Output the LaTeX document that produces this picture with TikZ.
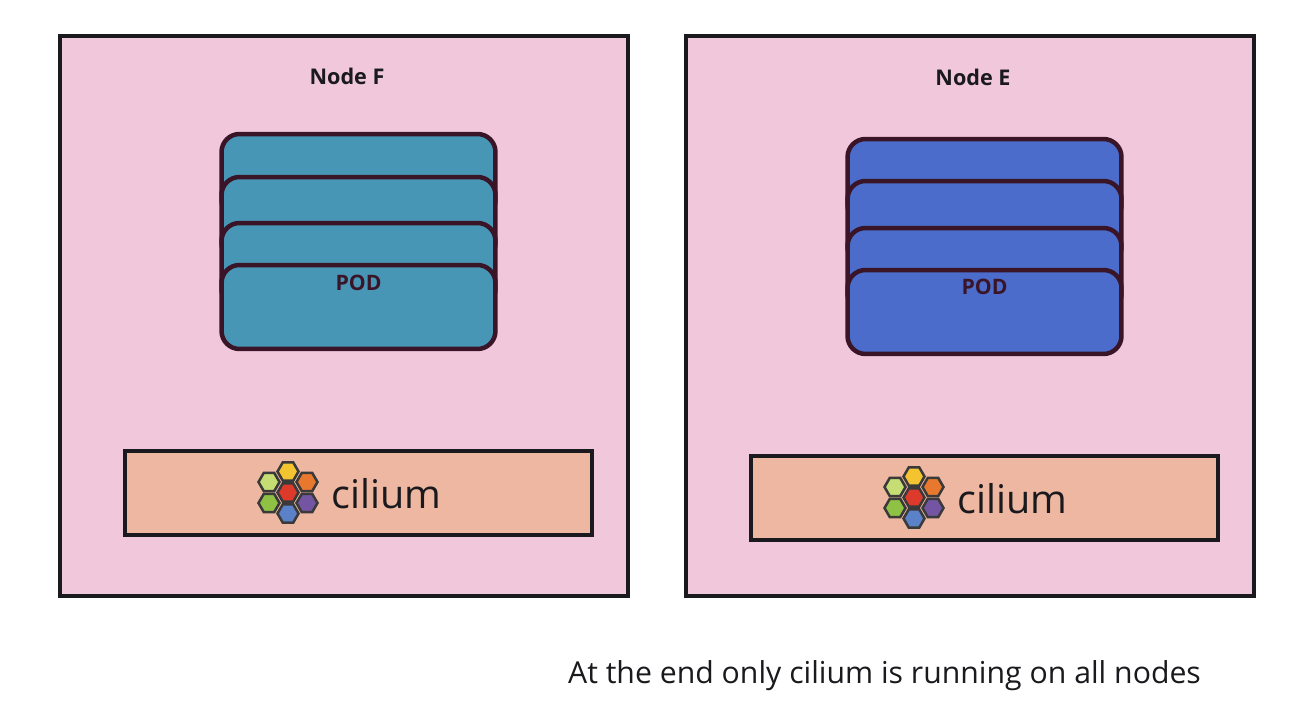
\documentclass[tikz,border=0pt]{standalone}
\usepackage{fontspec}
\setmainfont{Open Sans}
\usetikzlibrary{shapes.geometric}

\definecolor{nodepink}{HTML}{F1C7DC}
\definecolor{podteal}{HTML}{4896B6}
\definecolor{podblue}{HTML}{4B6CCB}
\definecolor{cilbox}{HTML}{EEB7A1}
\definecolor{inkdark}{HTML}{1A1A1E}
\definecolor{inkpod}{HTML}{3A1528}
\definecolor{hexline}{HTML}{3A3A3A}

\begin{document}
\begin{tikzpicture}[
    x=0.02cm, y=-0.02cm,
    worker/.style={rectangle, draw=inkdark, fill=nodepink, line width=0.08cm, minimum width=11.38cm, minimum height=11.22cm, inner sep=0pt, outer sep=0pt},
    pod/.style={rectangle, rounded corners=0.36cm, draw=inkpod, line width=0.09cm, minimum width=5.48cm, minimum height=1.68cm, inner sep=0pt, outer sep=0pt},
    agent/.style={rectangle, draw=inkdark, fill=cilbox, line width=0.08cm, minimum width=9.34cm, minimum height=1.68cm, inner sep=0pt, outer sep=0pt},
    nodetitle/.style={font=\bfseries\fontsize{12.3pt}{14pt}\selectfont, text=inkdark},
    podtitle/.style={font=\bfseries\fontsize{12.1pt}{14pt}\selectfont, text=inkpod},
    ciltext/.style={font=\fontsize{22.5pt}{27pt}\selectfont, text=inkdark, anchor=west},
    hex/.style={regular polygon, regular polygon sides=6, draw=hexline, line width=0.05cm, minimum size=0.42cm, inner sep=0pt, outer sep=0pt},
    ciliumlogo/.pic={
        \foreach \hx/\hy/\hc in {0/-21/F4C430, 19/-10.5/E8782E, 19/10.5/7455A3, 0/21/5B82C8, -19/10.5/8FC244, -19/-10.5/C5DD72, 0/0/DD3A2C}{
            \definecolor{hexfill}{HTML}{\hc}
            \node[hex, fill=hexfill] (hex\hc) at (\hx,\hy) {};
        }
    }
]

\useasboundingbox (0,0) rectangle (1300,722);
\fill[white] (0,0) rectangle (1300,722);

% Node F
\node[worker] (nodeF) at (344,316) {};
\node[nodetitle] (titleF) at (347,76) {Node F};
\node[pod, fill=podteal] (podF1) at (358.5,176) {};
\node[pod, fill=podteal] (podF2) at (358.5,219) {};
\node[pod, fill=podteal] (podF3) at (358.5,265) {};
\node[pod, fill=podteal] (podF4) at (358.5,307) {};
\node[podtitle] (textF) at (358.5,283) {POD};
\node[agent] (agentF) at (358.5,493) {};
\pic at (288,492.5) {ciliumlogo};
\node[ciltext] (cilF) at (325,493.5) {cilium};

% Node E
\node[worker] (nodeE) at (970,316) {};
\node[nodetitle] (titleE) at (973,77) {Node E};
\node[pod, fill=podblue] (podE1) at (984.5,181) {};
\node[pod, fill=podblue] (podE2) at (984.5,223) {};
\node[pod, fill=podblue] (podE3) at (984.5,270) {};
\node[pod, fill=podblue] (podE4) at (984.5,312) {};
\node[podtitle] (textE) at (984.5,287) {POD};
\node[agent] (agentE) at (984.5,498) {};
\pic at (914,497.5) {ciliumlogo};
\node[ciltext] (cilE) at (951,498.5) {cilium};

% Caption
\node[font=\fontsize{17.2pt}{20pt}\selectfont, text=inkdark] (caption) at (884.5,676) {At the end only cilium is running on all nodes};

\end{tikzpicture}
\end{document}
